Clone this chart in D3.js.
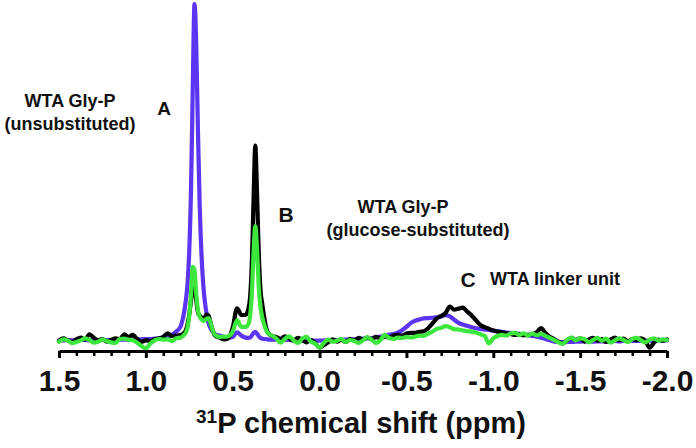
<!DOCTYPE html>
<html><head><meta charset="utf-8">
<script src="https://cdn.jsdelivr.net/npm/d3@7"></script>
<style>
body{margin:0;background:#fff}
text{font-family:"Liberation Sans",Arial,Helvetica,sans-serif;font-weight:bold;fill:#111}
</style>
</head><body>
<svg id="chart" width="696" height="448"></svg>
<script>
// chemical shift grid (ppm)
const ppm = [
 1.5,1.475,1.45,1.425,1.4,1.375,1.35,1.325,1.3,1.275,1.25,1.225,1.2,1.175,1.15,1.125,1.1,1.075,1.05,1.025,1.0,0.975,0.95,0.925,0.9,0.875,0.85,0.825,
 0.8,0.79,0.78,0.77,0.76,0.75,0.74,0.73,0.72,0.71,0.7,0.69,0.68,0.67,0.66,0.65,0.64,0.63,0.62,0.61,0.6,
 0.575,0.55,0.525,0.5,0.475,0.45,0.425,
 0.41,0.4,0.39,0.38,0.37,0.36,0.35,0.34,0.33,0.32,0.31,
 0.3,0.275,0.25,0.225,0.2,0.175,0.15,0.125,0.1,0.075,
 0.05,0.025,0.0,-0.025,-0.05,-0.075,-0.1,-0.125,-0.15,-0.175,
 -0.2,-0.225,-0.25,-0.275,-0.3,-0.325,-0.35,-0.375,-0.4,-0.425,
 -0.45,-0.475,-0.5,-0.525,-0.55,-0.575,-0.6,-0.625,-0.65,-0.675,
 -0.7,-0.725,-0.75,-0.775,-0.8,-0.825,-0.85,-0.875,-0.9,-0.925,
 -0.95,-0.975,-1.0,-1.025,-1.05,-1.075,-1.1,-1.125,-1.15,-1.175,
 -1.2,-1.225,-1.25,-1.275,-1.3,-1.325,-1.35,-1.375,-1.4,-1.425,
 -1.45,-1.475,-1.5,-1.525,-1.55,-1.575,-1.6,-1.625,-1.65,-1.675,
 -1.7,-1.725,-1.75,-1.775,-1.8,-1.825,-1.85,-1.875,-1.9,-1.925,
 -1.95,-1.975,-2.0
];
// intensities (arbitrary units) — purple spectrum
const bluePurple = [
 0.2,0.2,0.3,0.2,0.2,0.3,0.3,0.2,0.3,0.3,0.3,0.3,0.3,0.4,0.4,0.4,0.4,0.5,0.5,0.5,0.6,0.6,0.7,0.8,1.0,1.3,1.8,2.8,
 4.3,6,8.5,12,17,27,45,75,100,88,62,40,26,17,11.5,8,5.5,4,3.1,2.5,2.0,
 1.6,1.2,1.0,1.2,2.6,1.6,1.0,
 0.9,1.0,1.6,2.4,2.7,2.2,1.4,0.9,0.7,0.6,0.6,
 0.5,0.4,0.4,0.3,0.3,0.3,0.2,0.2,0.2,0.1,
 0.1,0.1,0.1,0.2,0.2,0.2,0.3,0.3,0.4,0.4,
 0.5,0.6,0.7,0.8,0.9,1.1,1.3,1.6,1.9,2.1,
 2.5,3.2,4.2,5.3,6.0,6.4,6.7,6.8,6.9,7.0,
 7.3,7.7,7.3,6.3,5.4,4.9,4.5,4.1,3.8,3.6,
 3.4,3.3,3.1,2.9,2.7,2.5,2.4,2.3,2.1,1.9,
 1.7,1.5,1.3,1.0,0.6,0.2,-0.2,-0.3,-0.3,-0.2,
 -0.3,-0.2,-0.2,-0.1,-0.2,-0.2,-0.1,-0.1,-0.2,-0.1,
 0.0,-0.1,0.0,0.0,0.0,0.1,0.0,0.1,0.1,0.1,
 0.2,0.2,0.2
];
// black spectrum
const blackSpec = [
 0.0,0.8,0.2,-0.3,0.5,1.0,0.4,2.0,1.0,0.2,0.6,-0.2,0.3,0.8,0.5,2.0,1.2,1.8,0.6,-0.3,0.2,0.0,0.5,0.8,1.2,2.3,1.5,1.6,
 1.8,2.0,2.4,3.2,5,8,12,16,16.5,12,8.5,7.5,7,6.8,7.2,7.8,7.6,6.0,4.0,2.4,1.5,
 1.0,0.5,0.8,4.0,9.7,7.7,7.8,
 9.5,13,23,42,58,44,26,15,11,7.5,4.5,
 2.8,1.5,1.2,0.6,1.4,0.8,0.2,0.9,0.4,-0.4,
 0.3,-0.6,-2.0,-1.2,-0.4,0.5,-0.2,0.4,-0.3,0.6,
 0.2,0.9,0.4,1.0,0.6,1.2,0.8,1.3,1.0,1.6,
 1.8,1.6,2.2,2.4,2.4,2.7,2.9,3.8,5.2,6.7,
 7.4,8.3,10.2,9.3,9.6,9.9,8.7,7.6,6.2,4.8,
 4.1,3.6,3.1,2.8,2.6,2.3,2.1,1.8,1.9,1.7,
 1.8,2.0,2.6,3.8,2.4,1.3,0.6,-0.2,-0.7,0.2,
 0.9,0.3,0.8,-0.2,0.5,0.9,0.1,0.6,-0.3,0.4,
 1.0,0.2,0.7,-0.1,0.6,0.2,0.8,0.0,-2.0,-0.5,
 0.4,0.1,0.5
];
// green spectrum
const greenSpec = [
 -0.2,0.5,0.2,-0.6,-0.3,0.2,0.8,0.3,-0.5,-0.2,0.4,0.0,-0.4,-0.6,0.6,0.7,0.4,0.2,-0.5,-1.5,-2.2,-0.8,0.2,0.6,0.4,0.5,0.0,0.8,
 1.0,1.3,1.8,2.5,4,7.5,14,22,21,14,9,7.2,6.4,6.0,6.2,6.6,6.8,5.8,4.0,2.5,1.8,
 1.2,1.3,1.4,2.8,6.2,4.2,4.2,
 5.0,7.5,14,26,34,27,16,10,7,5,3.5,
 2.5,1.6,0.8,-0.5,0.6,1.4,0.2,-0.6,0.7,1.2,
 -0.2,-0.8,-2.0,-0.5,0.4,-0.2,0.1,0.6,-0.3,0.3,
 0.0,-0.6,0.2,1.1,0.4,-0.6,0.2,1.8,0.9,0.6,
 1.0,0.9,1.2,1.0,1.3,1.6,1.5,2.2,2.8,3.6,
 3.9,4.4,4.1,3.5,3.4,3.1,2.9,2.8,2.5,2.0,
 1.5,-0.7,0.8,1.5,1.8,1.6,2.2,2.4,1.8,2.3,
 1.6,2.2,1.7,2.1,1.5,0.9,0.3,-0.4,-0.8,0.3,
 1.0,0.2,0.8,0.6,-0.4,0.3,0.9,0.1,0.7,-0.5,
 0.2,0.8,0.3,-0.3,0.6,0.9,0.2,-0.4,0.4,0.8,
 0.1,0.5,0.3
];
const majorTicks = [1.5,1.0,0.5,0.0,-0.5,-1.0,-1.5,-2.0];
const tickLabels = ["1.5","1.0","0.5","0.0","-0.5","-1.0","-1.5","-2.0"];

const svg = d3.select("#chart");
const x = d3.scaleLinear().domain([1.5,-2.0]).range([59,667]);
const y = d3.scaleLinear().domain([0,100]).range([341,4]);

const series = [
  {values: bluePurple, color: "#5b35f2"},
  {values: blackSpec, color: "#000000"},
  {values: greenSpec, color: "#3ce63c"}
];
const line = d3.line().x(d=>x(d[0])).y(d=>y(d[1])).curve(d3.curveMonotoneX);
series.forEach(s=>{
  const pts = ppm.map((p,i)=>[p,s.values[i]]).filter(d=>d[1]!==undefined);
  svg.append("path").datum(pts).attr("d",line)
    .attr("fill","none").attr("stroke",s.color).attr("stroke-width",4.2)
    .attr("stroke-linejoin","round").attr("stroke-linecap","round");
});

// x axis
const axisY = 351;
const minorTicks = d3.range(-20,16).map(i=>i/10).filter(v=>Math.abs(v*2-Math.round(v*2))>1e-6);
const gMinor = svg.append("g").attr("transform",`translate(0,${axisY})`)
  .call(d3.axisBottom(x).tickValues(minorTicks).tickSize(5).tickSizeOuter(0).tickFormat(""));
gMinor.select(".domain").remove();
gMinor.selectAll("line").attr("stroke","#000").attr("stroke-width",2.5);
const gMajor = svg.append("g").attr("transform",`translate(0,${axisY})`)
  .call(d3.axisBottom(x).tickValues(majorTicks).tickSize(7).tickSizeOuter(0).tickPadding(12)
    .tickFormat((d,i)=>tickLabels[i]));
gMajor.select(".domain").attr("stroke","#000").attr("stroke-width",3);
gMajor.selectAll("line").attr("stroke","#000").attr("stroke-width",3);
gMajor.selectAll("text").style("font-size","30px").style("font-family",'"Liberation Sans",Arial,sans-serif')
  .style("font-weight","bold").attr("fill","#111");

// axis title
const title = svg.append("text").attr("x",361).attr("y",433).attr("text-anchor","middle").style("font-size","29px");
title.append("tspan").text("31").style("font-size","19px").attr("dy","-10");
title.append("tspan").text("P chemical shift (ppm)").attr("dy","10");

// annotations
function label(txt,xp,yp,size,anchor){
  svg.append("text").attr("x",xp).attr("y",yp).attr("text-anchor",anchor||"middle").style("font-size",size+"px").text(txt);
}
label("WTA Gly-P",70,107,18);
label("(unsubstituted)",70,130,18);
label("A",164,115,19);
label("B",286,222,21);
label("WTA Gly-P",403,213,18);
label("(glucose-substituted)",418,236,18);
label("C",468,287,21);
label("WTA linker unit",490,285,18,"start");
</script>
</body></html>
